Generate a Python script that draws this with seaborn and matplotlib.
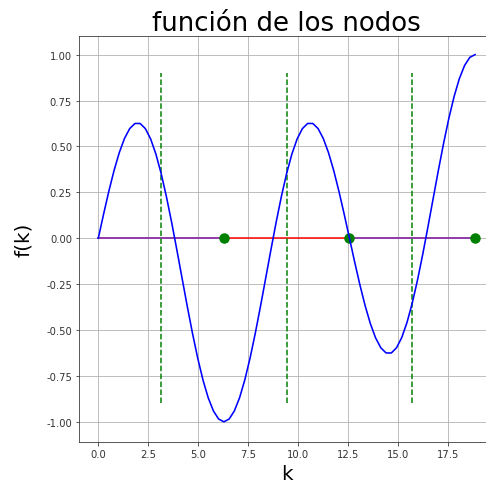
import matplotlib
matplotlib.use("Agg")
import matplotlib.pyplot as plt
import seaborn as sns
import pandas as pd

# Curve samples (k, f(k))
k_vals = [0.0, 0.2618, 0.5236, 0.7854, 1.0472, 1.3090, 1.5708, 1.8326, 2.0944, 2.3562,
          2.6180, 2.8798, 3.1416, 3.4034, 3.6652, 3.9270, 4.1888, 4.4506, 4.7124, 4.9742,
          5.2360, 5.4978, 5.7596, 6.0214, 6.2832, 6.5450, 6.8068, 7.0686, 7.3304, 7.5922,
          7.8540, 8.1158, 8.3776, 8.6394, 8.9012, 9.1630, 9.4248, 9.6866, 9.9484, 10.2102,
          10.4720, 10.7338, 10.9956, 11.2574, 11.5192, 11.7810, 12.0428, 12.3046, 12.5664, 12.8282,
          13.0900, 13.3518, 13.6136, 13.8754, 14.1372, 14.3990, 14.6608, 14.9226, 15.1844, 15.4462,
          15.7080, 15.9698, 16.2316, 16.4934, 16.7552, 17.0170, 17.2788, 17.5406, 17.8024, 18.0642,
          18.3260, 18.5878, 18.8496]
f_vals = [0.0, 0.1300, 0.2544, 0.3679, 0.4656, 0.5432, 0.5972, 0.6250, 0.6250, 0.5967,
          0.5407, 0.4588, 0.3536, 0.2287, 0.0887, -0.0616, -0.2165, -0.3705, -0.5180, -0.6534,
          -0.7718, -0.8688, -0.9408, -0.9851, -1.0, -0.9851, -0.9408, -0.8688, -0.7718, -0.6534,
          -0.5180, -0.3705, -0.2165, -0.0616, 0.0887, 0.2287, 0.3536, 0.4588, 0.5407, 0.5967,
          0.6250, 0.6250, 0.5972, 0.5432, 0.4656, 0.3679, 0.2544, 0.1300, 0.0, -0.1300,
          -0.2544, -0.3679, -0.4656, -0.5432, -0.5972, -0.6250, -0.6250, -0.5967, -0.5407, -0.4588,
          -0.3536, -0.2287, -0.0887, 0.0616, 0.2165, 0.3705, 0.5180, 0.6534, 0.7718, 0.8688,
          0.9408, 0.9851, 1.0]

# Nodes (green dots) and the dashed markers between them
node_k = [6.2832, 12.5664, 18.8496]
node_f = [0.0, 0.0, 0.0]
mid_k = [3.1416, 9.4248, 15.7080]
mid_lo = -0.9
mid_hi = 0.9

# Horizontal segments at f = 0
purple_segments = [(0.0, 6.2832), (12.5664, 18.8496)]
red_segments = [(6.2832, 12.5664)]

title = "función de los nodos"
xlabel = "k"
ylabel = "f(k)"
xticks = [0.0, 2.5, 5.0, 7.5, 10.0, 12.5, 15.0, 17.5]
yticks = [-1.0, -0.75, -0.5, -0.25, 0.0, 0.25, 0.5, 0.75, 1.0]

df = pd.DataFrame({"k": k_vals, "f": f_vals})

fig = plt.figure(figsize=(6.75, 6.736), dpi=72)
ax = fig.add_axes([0.1626, 0.0866, 0.8539, 0.8377])

for a, b in red_segments:
    sns.lineplot(x=[a, b], y=[0, 0], color="red", lw=1.5, ax=ax, zorder=2,
                 estimator=None)
for a, b in purple_segments:
    sns.lineplot(x=[a, b], y=[0, 0], color="#9040a8", lw=2.0, ax=ax, zorder=2,
                 estimator=None)

sns.scatterplot(x=node_k, y=node_f, color="green", s=110, edgecolor="green",
                linewidth=0, ax=ax, zorder=3)
for xk in mid_k:
    ax.plot([xk, xk], [mid_lo, mid_hi], color="green", lw=1.5,
            linestyle="--", zorder=3)

sns.lineplot(data=df, x="k", y="f", color="blue", lw=1.6, sort=False,
             estimator=None, ax=ax, zorder=4)

ax.set_xlim(-0.965, 19.8)
ax.set_ylim(-1.11, 1.103)
ax.set_xticks(xticks)
ax.set_yticks(yticks)
ax.set_xticklabels([f"{t:.1f}" for t in xticks])
ax.set_yticklabels([f"{t:.2f}" for t in yticks])
ax.tick_params(labelsize=10, colors="#333333", labelcolor="#333333")
ax.grid(True, color="#b0b0b0", lw=0.8)
ax.set_axisbelow(True)
for sp in ax.spines.values():
    sp.set_color("#333333")

ax.set_title(title, fontsize=26, pad=5)
ax.set_xlabel(xlabel, fontsize=20, labelpad=5)
ax.set_ylabel(ylabel, fontsize=20, labelpad=13)

fig.savefig("out.png", dpi=72)
